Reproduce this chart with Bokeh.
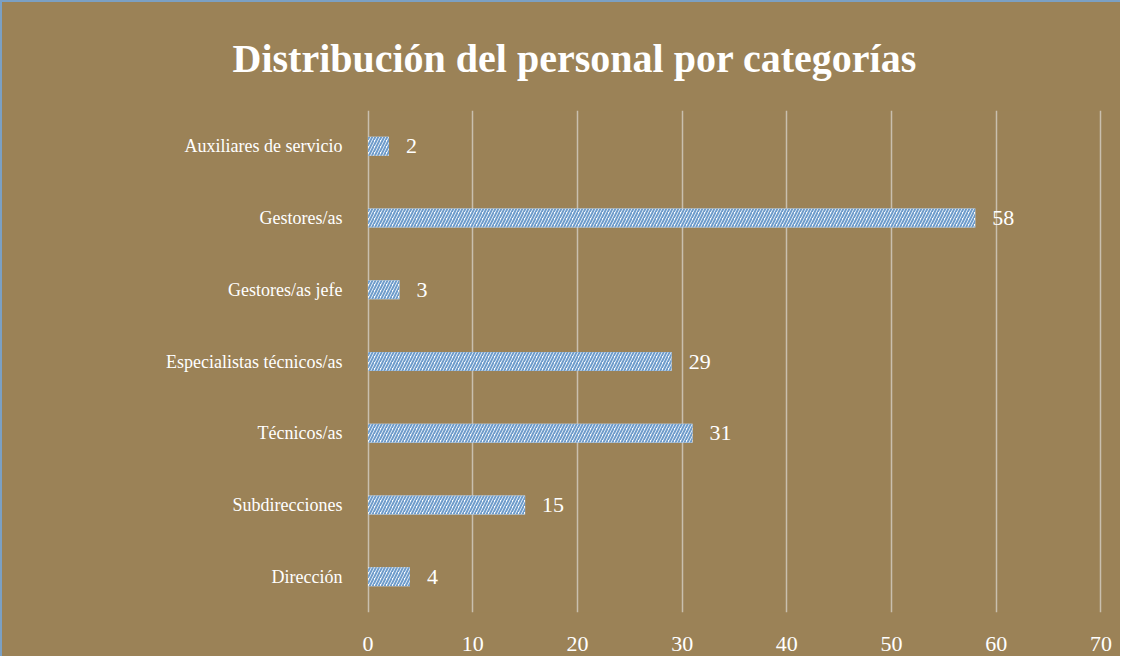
from bokeh.plotting import figure
from bokeh.models import ColumnDataSource, FactorRange, Range1d, LabelSet, FixedTicker
from bokeh.embed import file_html
from bokeh.resources import INLINE

categories = ["Dirección", "Subdirecciones", "Técnicos/as", "Especialistas técnicos/as",
              "Gestores/as jefe", "Gestores/as", "Auxiliares de servicio"]
values = [4, 15, 31, 29, 3, 58, 2]
x_ticks = [0, 10, 20, 30, 40, 50, 60, 70]
title_text = "Distribución del personal por categorías"

BG = "#9B8257"
SERIF = "Liberation Serif"

src = ColumnDataSource(dict(cat=categories, val=values, lab=[str(v) for v in values]))

p = figure(width=1120, height=656, output_backend="svg", toolbar_location=None,
           y_range=FactorRange(factors=categories), x_range=Range1d(-0.15, 70.15),
           min_border_left=364, min_border_right=20, min_border_top=108, min_border_bottom=46)
p.background_fill_color = BG
p.border_fill_color = BG
p.outline_line_color = None
p.styles = {"border-left": "2px solid #7BA0C4", "border-top": "2px solid #7BA0C4",
            "background-color": BG}

p.title.text = title_text
p.title.text_font = SERIF
p.title.text_font_style = "bold"
p.title.text_font_size = "40px"
p.title.text_color = "white"
p.title.align = "left"
p.title.offset = -134
p.title.standoff = 60

p.hbar(y="cat", right="val", left=0, height=0.265, source=src,
       fill_color="white", line_color=None,
       hatch_pattern="right_diagonal_line", hatch_color="#6E9CCB",
       hatch_scale=6, hatch_weight=2)

labels = LabelSet(x="val", y="cat", text="lab", source=src, x_offset=17,
                  text_baseline="middle", text_align="left",
                  text_font=SERIF, text_font_size="22px", text_color="white")
p.add_layout(labels)

p.xgrid.grid_line_color = "#C9BFAE"
p.xgrid.grid_line_width = 1.5
p.ygrid.grid_line_color = None
p.xaxis.ticker = FixedTicker(ticks=x_ticks)

for ax in (p.xaxis[0], p.yaxis[0]):
    ax.axis_line_color = None
    ax.major_tick_line_color = None
    ax.minor_tick_line_color = None
    ax.major_label_text_color = "white"
    ax.major_label_text_font = SERIF

p.xaxis.major_label_text_font_size = "22px"
p.xaxis.major_label_standoff = 18
p.yaxis.major_label_text_font_size = "18px"
p.yaxis.major_label_standoff = 18

open("out.html", "w").write(file_html(p, INLINE))
